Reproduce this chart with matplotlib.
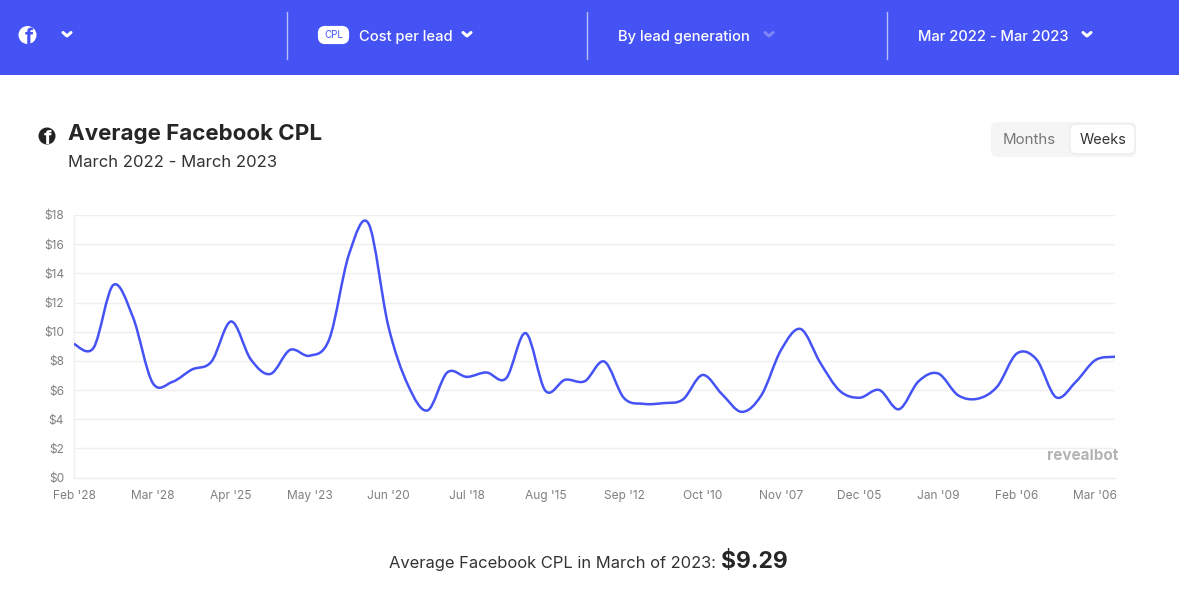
import matplotlib
matplotlib.use("Agg")
import matplotlib.pyplot as plt
import numpy as np
from matplotlib.patches import Circle, FancyBboxPatch, PathPatch, Rectangle
from matplotlib.path import Path

plt.rcParams['font.family'] = ['Inter', 'DejaVu Sans']

# weekly average CPL
cpl = [9.15, 8.9, 13.2, 11.0, 6.5, 6.55, 7.4, 7.95, 10.7, 8.1,
       7.1, 8.75, 8.35, 9.5, 15.3, 17.4, 10.4, 6.35, 4.6, 7.2,
       6.9, 7.2, 6.8, 9.9, 5.95, 6.7, 6.6, 7.95, 5.45, 5.05,
       5.1, 5.35, 7.03, 5.7, 4.5, 5.65, 8.75, 10.18, 7.85, 5.93,
       5.47, 6.0, 4.68, 6.6, 7.13, 5.65, 5.4, 6.23, 8.5, 8.1,
       5.5, 6.55, 8.05, 8.28]
tick_labels = ["Feb '28", "Mar '28", "Apr '25", "May '23", "Jun '20", "Jul '18", "Aug '15",
               "Sep '12", "Oct '10", "Nov '07", "Dec '05", "Jan '09", "Feb '06", "Mar '06"]
y_ticks = [0, 2, 4, 6, 8, 10, 12, 14, 16, 18]

W, H = 1179, 605
BLUE = '#4553f5'
GRID = '#efefef'


def smooth_path(xs, ys):
    """Bezier path through every point, tangents as in a Catmull-Rom spline."""
    verts = [(xs[0], ys[0])]
    codes = [Path.MOVETO]
    n = len(xs)
    for i in range(n - 1):
        x0, y0 = xs[max(i - 1, 0)], ys[max(i - 1, 0)]
        x1, y1 = xs[i], ys[i]
        x2, y2 = xs[i + 1], ys[i + 1]
        x3, y3 = xs[min(i + 2, n - 1)], ys[min(i + 2, n - 1)]
        verts.append((x1 + (x2 - x0) / 6, y1 + (y2 - y0) / 6))
        verts.append((x2 - (x3 - x1) / 6, y2 - (y3 - y1) / 6))
        verts.append((x2, y2))
        codes += [Path.CURVE4] * 3
    return Path(verts, codes)


def chevron(ax, x, y, color='white', size=4):
    ax.plot([x - size, x, x + size], [y - 1.5, y + 2, y - 1.5], color=color, lw=2.2,
            solid_capstyle='round', solid_joinstyle='round')


def fb_icon(ax, x, y, r, bg, fg):
    disc = Circle((x, y), r, facecolor=bg, edgecolor='none')
    ax.add_patch(disc)
    glyph = ax.text(x + r * 0.12, y + r * 0.3, 'f', color=fg, fontsize=r * 1.7, fontweight='bold',
                    ha='center', va='center')
    glyph.set_clip_path(disc)


fig = plt.figure(figsize=(W / 100, H / 100), dpi=100, facecolor='white')

# page furniture, in pixel coordinates
bg = fig.add_axes([0, 0, 1, 1])
bg.set_xlim(0, W)
bg.set_ylim(H, 0)
bg.axis('off')

bg.add_patch(Rectangle((0, 0), W, 75, facecolor=BLUE, edgecolor='none'))
for sep_x in [287, 587, 887]:
    bg.plot([sep_x, sep_x], [12, 59], color='#b9bff8', lw=1)

fb_icon(bg, 27.5, 35, 9, 'white', BLUE)
chevron(bg, 67, 34)

bg.add_patch(FancyBboxPatch((320, 28), 27, 14, boxstyle='round,pad=0,rounding_size=5',
                            facecolor='white', edgecolor='white', lw=3))
bg.text(333.5, 35.5, 'CPL', color=BLUE, fontsize=7, ha='center', va='center')
bg.text(359, 37, 'Cost per lead', color='white', fontsize=10.6, fontweight='medium', va='center')
chevron(bg, 467, 34)
bg.text(618, 37, 'By lead generation', color='white', fontsize=10.6, fontweight='medium', va='center')
chevron(bg, 769, 34, color='#7c86f7')
bg.text(918, 37, 'Mar 2022 - Mar 2023', color='white', fontsize=10.6, fontweight='medium', va='center')
chevron(bg, 1087, 34)

fb_icon(bg, 47, 136, 8.5, '#222222', 'white')
bg.text(68, 134.5, 'Average Facebook CPL', color='#262626', fontsize=16.1, fontweight='bold', va='center')
bg.text(68, 162.5, 'March 2022 - March 2023', color='#333333', fontsize=12, va='center')

bg.add_patch(FancyBboxPatch((991, 122), 145, 35, boxstyle='round,pad=0,rounding_size=6',
                            facecolor='#f5f5f5', edgecolor='none'))
bg.add_patch(FancyBboxPatch((1070, 124), 65, 30, boxstyle='round,pad=0,rounding_size=6',
                            facecolor='white', edgecolor='#e9e9e9', lw=0.8))
bg.text(1029, 140.5, 'Months', color='#777777', fontsize=10.8, ha='center', va='center')
bg.text(1103, 140.5, 'Weeks', color='#333333', fontsize=10.4, ha='center', va='center')

bg.text(1118, 455, 'revealbot', color='#b4b4b4', fontsize=11, fontweight='bold', ha='right', va='center')

bg.text(389, 563.5, 'Average Facebook CPL in March of 2023:', color='#333333', fontsize=11.9, va='center')
bg.text(721, 562, '$9.29', color='#262626', fontsize=16.5, fontweight='bold', va='center')

# chart
left, right, top, base = 74, 1115, 215, 477.5
ax = fig.add_axes([left / W, 1 - base / H, (right - left) / W, (base - top) / H])
ax.patch.set_alpha(0)

weeks = np.arange(len(cpl))
ax.add_patch(PathPatch(smooth_path(weeks, cpl), facecolor='none', edgecolor=BLUE, lw=1.8,
                       capstyle='round', joinstyle='round', zorder=3))

ax.set_xlim(weeks[0], weeks[-1])
ax.set_ylim(0, 18)
ax.set_yticks(y_ticks)
ax.set_yticklabels(['$%d' % v for v in y_ticks])
ax.set_xticks(weeks[::4])
ax.set_xticklabels(tick_labels)
ax.tick_params(axis='both', length=0, labelsize=8.6, labelcolor='#808080')
ax.tick_params(axis='x', pad=9)
ax.tick_params(axis='y', pad=7)
ax.grid(axis='y', color=GRID, lw=1)
ax.set_axisbelow(True)
for name, spine in ax.spines.items():
    spine.set_visible(name in ('left', 'bottom'))
    spine.set_color(GRID)
    spine.set_linewidth(1)

fig.savefig('out.png', dpi=100)
